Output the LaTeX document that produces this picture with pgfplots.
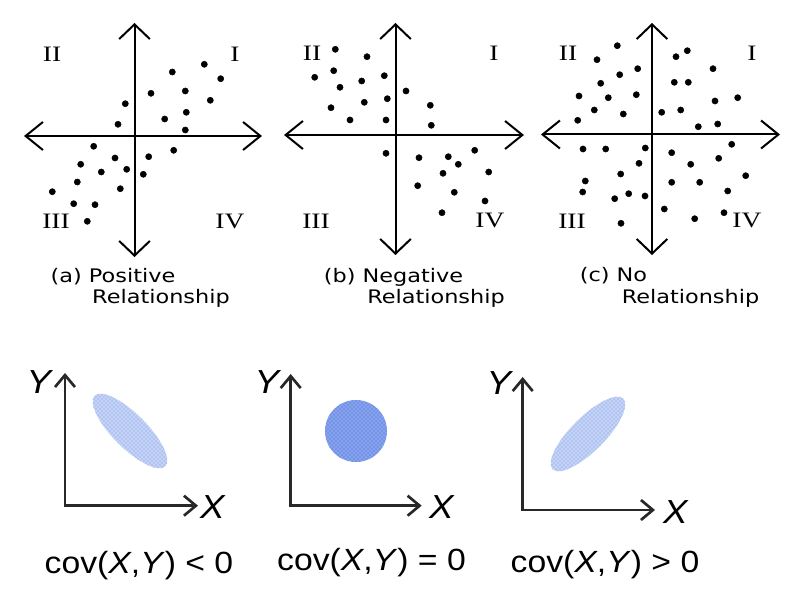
\documentclass[border=0pt]{standalone}
\usepackage{pgfplots}
\pgfplotsset{compat=1.18}
\usepackage{graphicx}
\usepackage{fontspec}
\setmainfont{Liberation Sans}
\newfontfamily\capfont{DejaVu Sans}
\newfontfamily\romfont{Liberation Serif}
\usetikzlibrary{arrows.meta,shapes.geometric,patterns}
\definecolor{axgray}{RGB}{40,40,40}
\definecolor{cloudlight}{RGB}{196,211,246}
\definecolor{cloudmid}{RGB}{135,162,236}
\definecolor{clouddot}{RGB}{60,100,215}
\newcommand{\rom}[1]{{\romfont\fontsize{16.5}{19}\selectfont\scalebox{1.25}[1]{#1}}}
\newcommand{\capt}[1]{{\capfont\fontsize{14}{16}\selectfont\scalebox{1.2}[1]{#1}}}
\newcommand{\blab}[1]{{\fontsize{25}{29}\selectfont\scalebox{1.1}[1]{\textit{#1}}}}
\newcommand{\covt}[1]{{\fontsize{23}{27}\selectfont\scalebox{1.1}[1]{#1}}}
\tikzset{
  myharr/.style={line width=1.5pt,{Straight Barb[length=13pt,width=21pt]}-{Straight Barb[length=13pt,width=21pt]}},
  myvarr/.style={line width=1.5pt,{Straight Barb[length=11pt,width=23pt]}-{Straight Barb[length=11pt,width=23pt]}},
  mybax/.style={line width=2pt, axgray, {Straight Barb[length=9pt,width=15pt]}-{Straight Barb[length=9pt,width=15pt]}},
}
\begin{document}
\begin{tikzpicture}
\begin{axis}[
  at={(0,0)}, anchor=south west,
  width=605.25pt, height=456.75pt, scale only axis,
  xmin=0, xmax=807, ymin=0, ymax=609, y dir=reverse,
  axis lines=none, clip=false,
]
\path (axis cs:0,0) rectangle (axis cs:807,609);
% panel (a)
\draw[myharr] (axis cs:24,136) -- (axis cs:262,136);
\draw[myvarr] (axis cs:134.5,23) -- (axis cs:134.5,257);
\node at (axis cs:52,54) {\rom{II}};
\node at (axis cs:235,54) {\rom{I}};
\node at (axis cs:56,221) {\rom{III}};
\node at (axis cs:230,221) {\rom{IV}};
\node at (axis cs:113,277) {\capt{(a) Positive}};
\node at (axis cs:161,298) {\capt{Relationship}};
% panel (b)
\draw[myharr] (axis cs:284,135) -- (axis cs:524,135);
\draw[myvarr] (axis cs:395.5,23) -- (axis cs:395.5,255);
\node at (axis cs:312,53) {\rom{II}};
\node at (axis cs:494,53) {\rom{I}};
\node at (axis cs:316,221) {\rom{III}};
\node at (axis cs:490,220) {\rom{IV}};
\node at (axis cs:393.5,277) {\capt{(b) Negative}};
\node at (axis cs:436,298) {\capt{Relationship}};
% panel (c)
\draw[myharr] (axis cs:541,134.5) -- (axis cs:780,134.5);
\draw[myvarr] (axis cs:652,23) -- (axis cs:652,255);
\node at (axis cs:568,53) {\rom{II}};
\node at (axis cs:752,53) {\rom{I}};
\node at (axis cs:572,221) {\rom{III}};
\node at (axis cs:747,220) {\rom{IV}};
\node at (axis cs:613.5,276) {\capt{(c) No}};
\node at (axis cs:690.5,298) {\capt{Relationship}};
% data points
\addplot[only marks, mark=*, mark size=2.3pt, black] coordinates {
(204.3,64.3) (172.3,72) (220.7,78.7) (151,93.3) (185.3,91) (125.3,103.7)
(210.3,100.3) (186.3,112.3) (164.7,119) (118,124.3) (185.3,130) (93.7,146.3)
(173.7,150.3) (115,158) (148.7,156.7) (80.7,164.3) (126.7,169.3) (101.3,172)
(143.3,174.3) (77.3,182) (120.3,188.7) (52.3,191.7) (73.7,203.7) (95,204.7) (87.3,221.3)
};
\addplot[only marks, mark=*, mark size=2.3pt, black] coordinates {
(335.3,49.3) (367,56.7) (314.7,77.3) (333.7,70.7) (384.3,75.7) (361.7,81)
(340,87.3) (406,91) (387.3,98.7) (364.3,102.3) (331,107.7) (430.3,105.3)
(350,120) (386,120) (431.3,125.3) (386,153.3) (474.7,150.3) (419,157.7)
(448.3,156.7) (458.3,164.3) (443,173.3) (488.7,172) (417.7,185.7) (454.3,192.3)
(485,201) (442,212.7)
};
\addplot[only marks, mark=*, mark size=2.3pt, black] coordinates {
(617.3,45.7) (597,59.7) (637.7,68.7) (619.7,74.7) (600.7,83.3) (579,96)
(608.3,97.7) (636.3,94.7) (594.3,110) (623.3,114) (577.7,120.3)
(676,56.7) (687.3,50.7) (713,68.7) (674.3,82.3) (688.3,82.3) (715,101)
(737.7,97.7) (661.7,112.3) (680.7,110) (698.3,126.7) (717.7,124)
(583,149) (605.7,149) (645.3,148) (639,163.3) (620.7,174) (585.3,181)
(582.7,192) (614.7,198.7) (628.7,193.7) (645,196) (621,223.3)
(671.7,152.7) (731.7,144.3) (718.7,158.3) (690.7,164.3) (745.7,175.7)
(671.7,182.3) (699.7,182.3) (727.7,191) (664.3,209) (694.7,218.7) (724,212.7)
};
% bottom panel 1
\node[ellipse, minimum width=75pt, minimum height=25.5pt, inner sep=0pt, rotate=-45, fill=cloudlight] at (axis cs:130,431) {};
\node[ellipse, minimum width=75pt, minimum height=25.5pt, inner sep=0pt, rotate=-45, pattern=crosshatch dots, pattern color=clouddot!70] at (axis cs:130,431) {};
\draw[mybax] (axis cs:65,373) -- (axis cs:65,505.7) -- (axis cs:198,505.7);
\node at (axis cs:40,382) {\blab{Y}};
\node at (axis cs:213,507) {\blab{X}};
\node at (axis cs:139,566) {\covt{cov(\textit{X},\textit{Y}) < 0}};
% bottom panel 2
\node[circle, minimum size=46.5pt, inner sep=0pt, fill=cloudmid] at (axis cs:356,431) {};
\node[circle, minimum size=46.5pt, inner sep=0pt, pattern=crosshatch dots, pattern color=clouddot] at (axis cs:356,431) {};
\draw[mybax] (axis cs:290.7,374) -- (axis cs:290.7,505.7) -- (axis cs:421.7,505.7);
\node at (axis cs:268,382) {\blab{Y}};
\node at (axis cs:442,507) {\blab{X}};
\node at (axis cs:371.5,563) {\covt{cov(\textit{X},\textit{Y}) = 0}};
% bottom panel 3
\node[ellipse, minimum width=75pt, minimum height=25.5pt, inner sep=0pt, rotate=45, fill=cloudlight] at (axis cs:588,434) {};
\node[ellipse, minimum width=75pt, minimum height=25.5pt, inner sep=0pt, rotate=45, pattern=crosshatch dots, pattern color=clouddot!70] at (axis cs:588,434) {};
\draw[mybax] (axis cs:522.7,377) -- (axis cs:522.7,510) -- (axis cs:655,510);
\node at (axis cs:500,383) {\blab{Y}};
\node at (axis cs:676,512) {\blab{X}};
\node at (axis cs:605,565) {\covt{cov(\textit{X},\textit{Y}) > 0}};
\end{axis}
\end{tikzpicture}
\end{document}
